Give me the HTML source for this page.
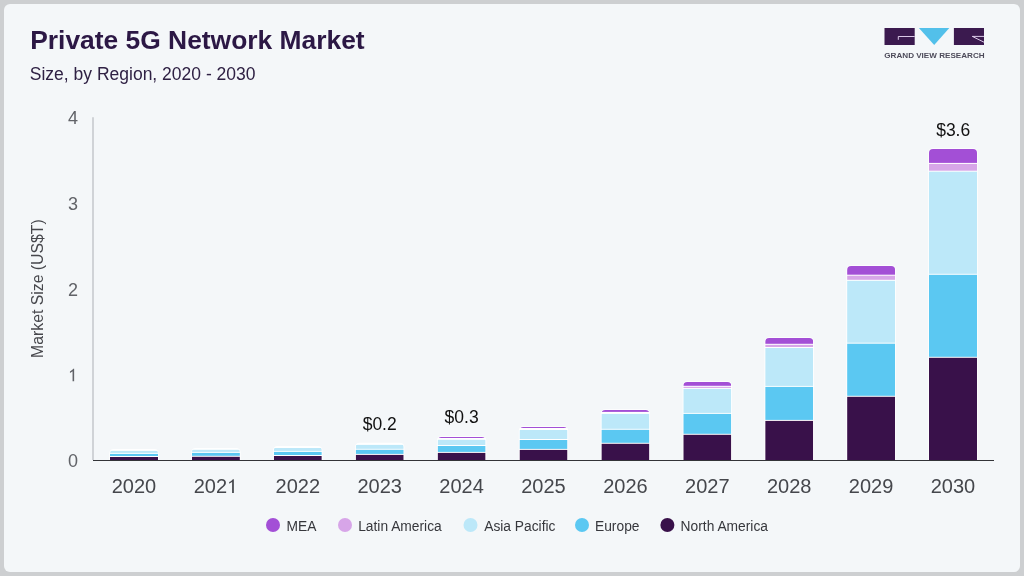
<!DOCTYPE html>
<html><head><meta charset="utf-8"><style>
html,body{margin:0;padding:0;width:1024px;height:576px;overflow:hidden;background:#cdcfd1;}
.card{position:absolute;left:4px;top:4px;width:1016px;height:568px;border-radius:6px;background:#f4f7f9;}
svg{position:absolute;left:0;top:0;will-change:transform;}
text{font-family:"Liberation Sans",sans-serif;}
.title{font-size:26.4px;font-weight:bold;fill:#2c1845;}
.sub{font-size:17.5px;fill:#2f2144;}
.xl{font-size:20px;fill:#45474c;}
.yl{font-size:18px;fill:#616368;}
.dl{font-size:17.5px;fill:#111;}
.lg{font-size:13.8px;fill:#36373c;}
.ax{font-size:15.8px;fill:#46474c;}
.logo{font-size:8.1px;font-weight:bold;fill:#4d4b5a;letter-spacing:0px;}
</style></head><body>
<div class="card"></div>
<svg width="1024" height="576" viewBox="0 0 1024 576">
<defs><clipPath id="c2020"><path d="M110.00,460 V453.70 Q110.00,449.70 114.00,449.70 H154.00 Q158.00,449.70 158.00,453.70 V460 Z"/></clipPath><clipPath id="c2021"><path d="M191.90,460 V452.60 Q191.90,448.60 195.90,448.60 H235.90 Q239.90,448.60 239.90,452.60 V460 Z"/></clipPath><clipPath id="c2022"><path d="M273.80,460 V450.80 Q273.80,446.80 277.80,446.80 H317.80 Q321.80,446.80 321.80,450.80 V460 Z"/></clipPath><clipPath id="c2023"><path d="M355.70,460 V447.50 Q355.70,443.50 359.70,443.50 H399.70 Q403.70,443.50 403.70,447.50 V460 Z"/></clipPath><clipPath id="c2024"><path d="M437.60,460 V441.00 Q437.60,437.00 441.60,437.00 H481.60 Q485.60,437.00 485.60,441.00 V460 Z"/></clipPath><clipPath id="c2025"><path d="M519.50,460 V431.00 Q519.50,427.00 523.50,427.00 H563.50 Q567.50,427.00 567.50,431.00 V460 Z"/></clipPath><clipPath id="c2026"><path d="M601.40,460 V414.00 Q601.40,410.00 605.40,410.00 H645.40 Q649.40,410.00 649.40,414.00 V460 Z"/></clipPath><clipPath id="c2027"><path d="M683.30,460 V386.00 Q683.30,382.00 687.30,382.00 H727.30 Q731.30,382.00 731.30,386.00 V460 Z"/></clipPath><clipPath id="c2028"><path d="M765.20,460 V342.00 Q765.20,338.00 769.20,338.00 H809.20 Q813.20,338.00 813.20,342.00 V460 Z"/></clipPath><clipPath id="c2029"><path d="M847.10,460 V270.00 Q847.10,266.00 851.10,266.00 H891.10 Q895.10,266.00 895.10,270.00 V460 Z"/></clipPath><clipPath id="c2030"><path d="M929.00,460 V153.00 Q929.00,149.00 933.00,149.00 H973.00 Q977.00,149.00 977.00,153.00 V460 Z"/></clipPath></defs>
<text x="30.2" y="48.8" class="title">Private 5G Network Market</text>
<text x="29.8" y="79.5" class="sub">Size, by Region, 2020 - 2030</text>
<!-- logo -->
<rect x="884.5" y="28" width="30.2" height="17" fill="#3b1a4f"/>
<path d="M898.3,39.8 V36.5 H914.7" fill="none" stroke="#ecdcf8" stroke-width="0.9"/>
<polygon points="918.9,28 949.3,28 934.2,45" fill="#52c0ea"/>
<rect x="953.9" y="28" width="30.1" height="17" fill="#3b1a4f"/>
<path d="M984,36.4 H972.3 L984,42.2" fill="none" stroke="#ecdcf8" stroke-width="0.9"/>
<text x="884.3" y="58" class="logo">GRAND VIEW RESEARCH</text>
<!-- axes -->
<line x1="93" y1="117.2" x2="93" y2="460" stroke="#c4c7cb" stroke-width="1.5"/>
<text x="78" y="466.9" text-anchor="end" class="yl">0</text><path transform="translate(67.99,381.23) scale(0.00879,-0.00879)" d="M700,0 L520,0 L520,1140 C460,1080 380,1020 223,950 L223,1120 C400,1200 540,1320 590,1409 L700,1409 Z" fill="#616368"/><text x="78" y="295.6" text-anchor="end" class="yl">2</text><text x="78" y="209.9" text-anchor="end" class="yl">3</text><text x="78" y="124.2" text-anchor="end" class="yl">4</text>
<text transform="translate(43,288.6) rotate(-90) scale(1,1.05)" text-anchor="middle" class="ax">Market Size (US$T)</text>
<path d="M109.30,460 V453.70 Q109.30,449.00 114.00,449.00 H154.00 Q158.70,449.00 158.70,453.70 V460 Z" fill="#ffffff"/><g clip-path="url(#c2020)"><rect x="110.00" y="450.90" width="48" height="2.00" fill="#bce8f9"/><rect x="110.00" y="453.90" width="48" height="2.10" fill="#5bc8f2"/><rect x="110.00" y="457.00" width="48" height="3.00" fill="#39114a"/></g><path d="M191.20,460 V452.60 Q191.20,447.90 195.90,447.90 H235.90 Q240.60,447.90 240.60,452.60 V460 Z" fill="#ffffff"/><g clip-path="url(#c2021)"><rect x="191.90" y="449.80" width="48" height="2.10" fill="#bce8f9"/><rect x="191.90" y="452.90" width="48" height="2.90" fill="#5bc8f2"/><rect x="191.90" y="456.80" width="48" height="3.20" fill="#39114a"/></g><path d="M273.10,460 V450.80 Q273.10,446.10 277.80,446.10 H317.80 Q322.50,446.10 322.50,450.80 V460 Z" fill="#ffffff"/><g clip-path="url(#c2022)"><rect x="273.80" y="448.00" width="48" height="2.90" fill="#bce8f9"/><rect x="273.80" y="451.90" width="48" height="3.10" fill="#5bc8f2"/><rect x="273.80" y="456.00" width="48" height="4.00" fill="#39114a"/></g><path d="M355.00,460 V447.50 Q355.00,442.80 359.70,442.80 H399.70 Q404.40,442.80 404.40,447.50 V460 Z" fill="#ffffff"/><g clip-path="url(#c2023)"><rect x="355.70" y="444.90" width="48" height="3.90" fill="#bce8f9"/><rect x="355.70" y="449.80" width="48" height="4.10" fill="#5bc8f2"/><rect x="355.70" y="454.90" width="48" height="5.10" fill="#39114a"/></g><path d="M436.90,460 V441.00 Q436.90,436.30 441.60,436.30 H481.60 Q486.30,436.30 486.30,441.00 V460 Z" fill="#ffffff"/><g clip-path="url(#c2024)"><rect x="437.60" y="437.00" width="48" height="1.00" fill="#a34fd6"/><rect x="437.60" y="439.80" width="48" height="5.20" fill="#bce8f9"/><rect x="437.60" y="446.00" width="48" height="5.90" fill="#5bc8f2"/><rect x="437.60" y="452.90" width="48" height="7.10" fill="#39114a"/></g><path d="M518.80,460 V431.00 Q518.80,426.30 523.50,426.30 H563.50 Q568.20,426.30 568.20,431.00 V460 Z" fill="#ffffff"/><g clip-path="url(#c2025)"><rect x="519.50" y="427.00" width="48" height="1.00" fill="#a34fd6"/><rect x="519.50" y="430.00" width="48" height="9.00" fill="#bce8f9"/><rect x="519.50" y="440.00" width="48" height="8.90" fill="#5bc8f2"/><rect x="519.50" y="449.90" width="48" height="10.10" fill="#39114a"/></g><path d="M600.70,460 V414.00 Q600.70,409.30 605.40,409.30 H645.40 Q650.10,409.30 650.10,414.00 V460 Z" fill="#ffffff"/><g clip-path="url(#c2026)"><rect x="601.40" y="410.00" width="48" height="1.90" fill="#a34fd6"/><rect x="601.40" y="413.90" width="48" height="14.90" fill="#bce8f9"/><rect x="601.40" y="429.80" width="48" height="13.00" fill="#5bc8f2"/><rect x="601.40" y="443.80" width="48" height="16.20" fill="#39114a"/></g><path d="M682.60,460 V386.00 Q682.60,381.30 687.30,381.30 H727.30 Q732.00,381.30 732.00,386.00 V460 Z" fill="#ffffff"/><g clip-path="url(#c2027)"><rect x="683.30" y="382.00" width="48" height="3.80" fill="#a34fd6"/><rect x="683.30" y="386.80" width="48" height="1.10" fill="#d7a5e8"/><rect x="683.30" y="388.90" width="48" height="24.00" fill="#bce8f9"/><rect x="683.30" y="413.90" width="48" height="19.90" fill="#5bc8f2"/><rect x="683.30" y="434.80" width="48" height="25.20" fill="#39114a"/></g><path d="M764.50,460 V342.00 Q764.50,337.30 769.20,337.30 H809.20 Q813.90,337.30 813.90,342.00 V460 Z" fill="#ffffff"/><g clip-path="url(#c2028)"><rect x="765.20" y="338.00" width="48" height="5.80" fill="#a34fd6"/><rect x="765.20" y="344.80" width="48" height="2.20" fill="#d7a5e8"/><rect x="765.20" y="348.00" width="48" height="37.90" fill="#bce8f9"/><rect x="765.20" y="386.90" width="48" height="33.00" fill="#5bc8f2"/><rect x="765.20" y="420.90" width="48" height="39.10" fill="#39114a"/></g><path d="M846.40,460 V270.00 Q846.40,265.30 851.10,265.30 H891.10 Q895.80,265.30 895.80,270.00 V460 Z" fill="#ffffff"/><g clip-path="url(#c2029)"><rect x="847.10" y="266.00" width="48" height="8.70" fill="#a34fd6"/><rect x="847.10" y="275.70" width="48" height="4.10" fill="#d7a5e8"/><rect x="847.10" y="280.80" width="48" height="61.90" fill="#bce8f9"/><rect x="847.10" y="343.70" width="48" height="52.10" fill="#5bc8f2"/><rect x="847.10" y="396.80" width="48" height="63.20" fill="#39114a"/></g><path d="M928.30,460 V153.00 Q928.30,148.30 933.00,148.30 H973.00 Q977.70,148.30 977.70,153.00 V460 Z" fill="#ffffff"/><g clip-path="url(#c2030)"><rect x="929.00" y="149.00" width="48" height="13.90" fill="#a34fd6"/><rect x="929.00" y="163.90" width="48" height="6.80" fill="#d7a5e8"/><rect x="929.00" y="171.70" width="48" height="102.10" fill="#bce8f9"/><rect x="929.00" y="274.80" width="48" height="82.00" fill="#5bc8f2"/><rect x="929.00" y="357.80" width="48" height="102.20" fill="#39114a"/></g>
<line x1="93" y1="460.5" x2="994" y2="460.5" stroke="#333438" stroke-width="1.2"/>
<text x="134.0" y="493" text-anchor="middle" class="xl">2020</text><text x="193.65" y="493" class="xl">202</text><path transform="translate(227.02,493.00) scale(0.00977,-0.00977)" d="M700,0 L520,0 L520,1140 C460,1080 380,1020 223,950 L223,1120 C400,1200 540,1320 590,1409 L700,1409 Z" fill="#45474c"/><text x="297.8" y="493" text-anchor="middle" class="xl">2022</text><text x="379.7" y="493" text-anchor="middle" class="xl">2023</text><text x="461.6" y="493" text-anchor="middle" class="xl">2024</text><text x="543.5" y="493" text-anchor="middle" class="xl">2025</text><text x="625.4" y="493" text-anchor="middle" class="xl">2026</text><text x="707.3" y="493" text-anchor="middle" class="xl">2027</text><text x="789.2" y="493" text-anchor="middle" class="xl">2028</text><text x="871.1" y="493" text-anchor="middle" class="xl">2029</text><text x="953.0" y="493" text-anchor="middle" class="xl">2030</text>
<text x="379.7" y="429.8" text-anchor="middle" class="dl">$0.2</text>
<text x="461.6" y="422.7" text-anchor="middle" class="dl">$0.3</text>
<text x="953.2" y="135.6" text-anchor="middle" class="dl">$3.6</text>
<!-- legend -->
<circle cx="273" cy="525" r="7" fill="#a34fd6"/><text transform="translate(286.5,530.6) scale(1,1.12)" class="lg">MEA</text>
<circle cx="345" cy="525" r="7" fill="#d7a5e8"/><text transform="translate(358.2,530.6) scale(1,1.12)" class="lg">Latin America</text>
<circle cx="470.5" cy="525" r="7" fill="#bce8f9"/><text transform="translate(484.2,530.6) scale(1,1.12)" class="lg">Asia Pacific</text>
<circle cx="582" cy="525" r="7" fill="#5bc8f2"/><text transform="translate(595,530.6) scale(1,1.12)" class="lg">Europe</text>
<circle cx="667.4" cy="525" r="7" fill="#39114a"/><text transform="translate(680.6,530.6) scale(1,1.12)" class="lg">North America</text>
</svg>
</body></html>
